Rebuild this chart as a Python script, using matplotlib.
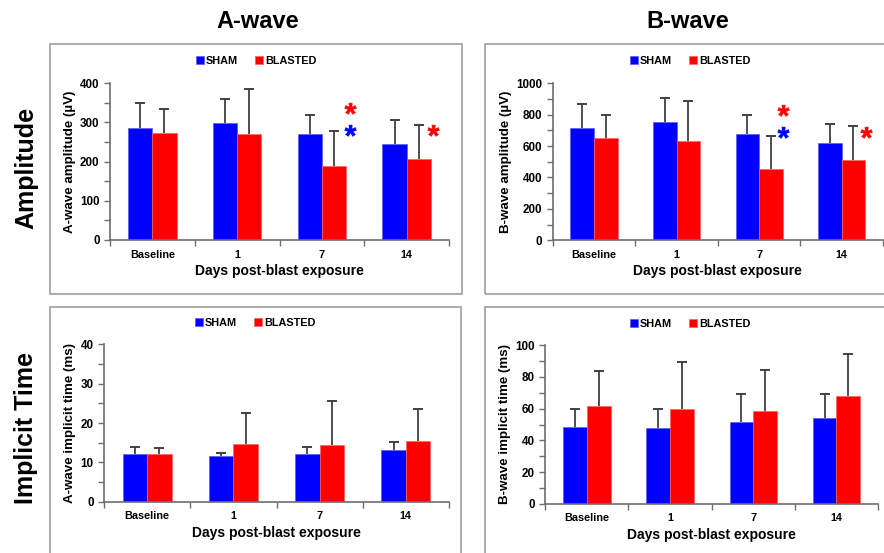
import numpy as np
import matplotlib
matplotlib.use("Agg")
import matplotlib.pyplot as plt
from matplotlib.patches import Rectangle
from matplotlib.textpath import TextPath
from matplotlib.font_manager import FontProperties
from matplotlib.path import Path
from matplotlib.ticker import MultipleLocator, FixedLocator, NullFormatter

plt.rcParams['font.family'] = ['Liberation Sans', 'DejaVu Sans']
plt.rcParams['font.weight'] = 'bold'

categories = ["Baseline", "1", "7", "14"]
series = ["SHAM", "BLASTED"]

a_amp_sham = [285, 299, 270, 245]
a_amp_sham_err = [64, 60, 50, 61]
a_amp_blast = [272, 270, 188, 206]
a_amp_blast_err = [62, 116, 89, 88]

b_amp_sham = [713, 752, 679, 618]
b_amp_sham_err = [155, 155, 117, 121]
b_amp_blast = [652, 631, 456, 510]
b_amp_blast_err = [148, 254, 206, 216]

a_it_sham = [12.1, 11.5, 12.1, 13.2]
a_it_sham_err = [1.8, 0.8, 1.8, 1.9]
a_it_blast = [12.1, 14.6, 14.5, 15.4]
a_it_blast_err = [1.5, 7.9, 11.0, 8.2]

b_it_sham = [48.2, 47.6, 51.4, 54.1]
b_it_sham_err = [11.8, 12.4, 18.1, 15.4]
b_it_blast = [61.5, 60.0, 58.3, 68.0]
b_it_blast_err = [22.5, 29.3, 26.1, 26.3]

# significance stars: (x position in category units, y value, colour)
a_amp_stars = [(2.33, 325, 'red'), (2.33, 268, 'blue'), (3.31, 268, 'red')]
b_amp_stars = [(2.29, 798, 'red'), (2.29, 656, 'blue'), (3.29, 660, 'red')]

W, H = 884, 553
fig = plt.figure(figsize=(W / 100, H / 100), dpi=100)


def px_axes(x0, y0, x1, y1):
    return fig.add_axes([x0 / W, 1 - y1 / H, (x1 - x0) / W, (y1 - y0) / H])


# panel boxes
for (x0, y0, x1, y1) in [(49.5, 44, 462, 293.5), (484.5, 44, 900, 293.5),
                         (49.5, 306.5, 461, 570), (484.5, 306.5, 900, 570)]:
    fig.patches.append(Rectangle((x0 / W, 1 - y1 / H), (x1 - x0) / W, (y1 - y0) / H,
                                 transform=fig.transFigure, fill=False,
                                 edgecolor='#a6a6a6', linewidth=1.3, clip_on=False))

# star marker path (centered)
tp = TextPath((0, 0), '*', prop=FontProperties(family='Liberation Sans', weight='bold'))
v = tp.vertices.copy()
mn, mx = v.min(axis=0), v.max(axis=0)
v = v - (mn + mx) / 2
star_path = Path(v, tp.codes)

BLUE = '#0000ff'
RED = '#ff0000'
GREY = '#6e6e6e'
ECOL = '#404040'


def upper_err(ax, xs, ys, errs):
    xs = np.asarray(xs)
    tops = np.asarray(ys) + np.asarray(errs)
    ax.vlines(xs, ys, tops, colors=ECOL, linewidth=1.3, zorder=1)
    ax.plot(xs, tops, linestyle='none', marker='_', markersize=6.5,
            markeredgewidth=1.4, color=ECOL, zorder=1)


def panel(rect, sham, sham_err, blast, blast_err, ylim, major, minor, ylabel, legend_xy, stars=None):
    ax = px_axes(*rect)
    x = np.arange(len(categories))
    bw = 0.285
    b1 = ax.bar(x - bw / 2, sham, bw, color=BLUE, edgecolor='#5a5aff', linewidth=0.5, label=series[0], zorder=2)
    b2 = ax.bar(x + bw / 2, blast, bw, color=RED, edgecolor='#ff6060', linewidth=0.5, label=series[1], zorder=2)
    upper_err(ax, x - bw / 2, sham, sham_err)
    upper_err(ax, x + bw / 2, blast, blast_err)
    ax.set_xlim(-0.5, len(categories) - 0.5)
    ax.set_ylim(*ylim)
    ax.yaxis.set_major_locator(MultipleLocator(major))
    ax.yaxis.set_minor_locator(MultipleLocator(minor))
    ax.xaxis.set_major_locator(FixedLocator(np.arange(-0.5, len(categories), 1.0)))
    ax.xaxis.set_major_formatter(NullFormatter())
    ax.xaxis.set_minor_locator(FixedLocator(x))
    ax.set_xticklabels(categories, minor=True)
    ax.tick_params(axis='x', which='minor', length=0, labelsize=7.8, pad=7)
    ax.tick_params(axis='x', which='major', length=4, width=1, color=GREY, direction='out')
    ax.tick_params(axis='y', which='both', length=4, width=1, color=GREY, direction='out', labelsize=8.4)
    for lab in ax.get_xticklabels(minor=True) + ax.get_yticklabels():
        lab.set_fontweight('bold')
    for s in ['top', 'right']:
        ax.spines[s].set_visible(False)
    for s in ['left', 'bottom']:
        ax.spines[s].set_color(GREY)
        ax.spines[s].set_linewidth(1.2)
    ax.set_xlabel("Days post-blast exposure", fontsize=10, fontweight='bold', labelpad=3)
    ax.set_ylabel(ylabel, fontsize=9.6, fontweight='bold', labelpad=3)
    if stars:
        for (sx, sy, c) in stars:
            ax.plot([sx], [sy], marker=star_path, markersize=15, color=c,
                    markeredgewidth=0.4, linestyle='none', clip_on=False, zorder=3)
    fig.legend([b1, b2], series, loc='center', bbox_to_anchor=(legend_xy[0] / W, 1 - legend_xy[1] / H),
               ncol=2, frameon=False, handlelength=0.75, handleheight=0.75, handletextpad=0.15,
               columnspacing=1.6, prop=FontProperties(family='Liberation Sans', weight='bold', size=7.8))
    return ax


panel((110, 83.3, 449, 240), a_amp_sham, a_amp_sham_err, a_amp_blast, a_amp_blast_err,
      (0, 400), 100, 50, "A-wave amplitude (\u00b5V)", (256, 61), a_amp_stars)
panel((552.7, 83.3, 883, 240.3), b_amp_sham, b_amp_sham_err, b_amp_blast, b_amp_blast_err,
      (0, 1000), 200, 100, "B-wave amplitude (\u00b5V)", (690, 61), b_amp_stars)
panel((104, 344.3, 449, 501.7), a_it_sham, a_it_sham_err, a_it_blast, a_it_blast_err,
      (0, 40), 10, 5, "A-wave implicit time (ms)", (255, 323))
panel((545.3, 345.3, 878, 503.7), b_it_sham, b_it_sham_err, b_it_blast, b_it_blast_err,
      (0, 100), 20, 10, "B-wave implicit time (ms)", (690, 324))

fig.text(258 / W, 1 - 22 / H, "A-wave", ha='center', va='center', fontsize=17, fontweight='bold')
fig.text(688 / W, 1 - 22 / H, "B-wave", ha='center', va='center', fontsize=17, fontweight='bold')
fig.text(26 / W, 1 - 168 / H, "Amplitude", ha='center', va='center', rotation=90, fontsize=18, fontweight='bold')
fig.text(26 / W, 1 - 428 / H, "Implicit Time", ha='center', va='center', rotation=90, fontsize=18, fontweight='bold')

fig.savefig("out.png", dpi=100)
